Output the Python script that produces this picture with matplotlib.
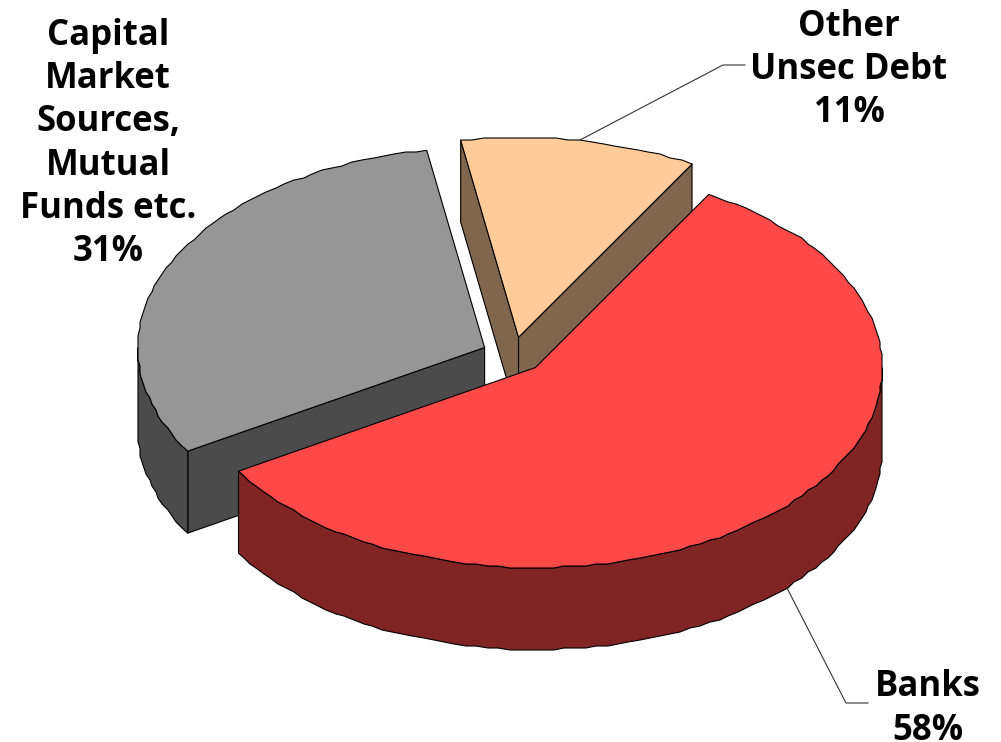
import numpy as np
import matplotlib
matplotlib.use("Agg")
import matplotlib.pyplot as plt

labels = ["Banks\n58%", "Capital\nMarket\nSources,\nMutual\nFunds etc.\n31%", "Other\nUnsec Debt\n11%"]
shares = [58, 31, 11]
top_colors = ["#FF4848", "#969696", "#FFCC99"]
side_colors = ["#802424", "#4B4B4B", "#80664D"]

# pie geometry in pixels
CX, CY = 513, 355
RX, RY = 347, 200
DEPTH = 82
EXPLODE = 0.09
START = 60
GRID = 2.0

plt.rcParams["font.family"] = ["Open Sans", "DejaVu Sans"]
fig = plt.figure(figsize=(10.01, 7.42), dpi=100)
ax = fig.add_axes([0, 0, 1, 1])
ax.set_xlim(0, 1001)
ax.set_ylim(742, 0)
ax.axis("off")


def arc(cx, cy, a0, a1):
    # coarse, snapped steps give the rim its slightly rough look
    n = max(2, int(abs(a1 - a0) / 1.8))
    deg = np.linspace(a0, a1, n)
    t = np.radians(deg)
    x = cx + RX * np.cos(t)
    y = cy - RY * np.sin(t)
    x[1:-1] = np.round(x[1:-1] / GRID) * GRID
    y[1:-1] = np.round(y[1:-1] / GRID) * GRID
    return deg, x, y


def wall(xs, ys, color):
    px = np.concatenate([xs, xs[::-1]])
    py = np.concatenate([ys, ys[::-1] + DEPTH])
    ax.fill(px, py, facecolor=color, edgecolor="black", linewidth=0.8, joinstyle="round")


# slice angles run clockwise from START
ends = START - np.cumsum(shares) * 3.6
starts = np.concatenate([[START], ends[:-1]])

# back slices first so the red one sits on top
for i in [2, 1, 0]:
    a0, a1 = starts[i], ends[i]
    mid = np.radians((a0 + a1) / 2)
    cx = CX + EXPLODE * RX * np.cos(mid)
    cy = CY - EXPLODE * RY * np.sin(mid)
    deg, rim_x, rim_y = arc(cx, cy, a0, a1)

    # cut faces that look toward the viewer
    if np.cos(np.radians(a0)) < 0:
        wall(np.array([cx, rim_x[0]]), np.array([cy, rim_y[0]]), side_colors[i])
    if np.cos(np.radians(a1)) > 0:
        wall(np.array([cx, rim_x[-1]]), np.array([cy, rim_y[-1]]), side_colors[i])

    # outer rim, only the front half of the ellipse shows
    front = np.sin(np.radians(deg)) <= 0.01
    if front.sum() > 1:
        wall(rim_x[front], rim_y[front], side_colors[i])

    ax.fill(np.concatenate([[cx], rim_x]), np.concatenate([[cy], rim_y]),
            facecolor=top_colors[i], edgecolor="black", linewidth=0.8, joinstyle="round")

# leader lines
ax.plot([787, 846, 868], [588, 703, 703], color="#333333", linewidth=0.8)
ax.plot([580, 723, 745], [140, 65, 65], color="#333333", linewidth=0.8)

text_kw = dict(ha="center", va="center", fontweight="bold", fontsize=25, linespacing=1.27, color="black")
ax.text(928, 709, labels[0], **text_kw)
ax.text(108, 144, labels[1], **text_kw)
ax.text(849, 70, labels[2], **text_kw)

fig.savefig("out.png", dpi=100)
